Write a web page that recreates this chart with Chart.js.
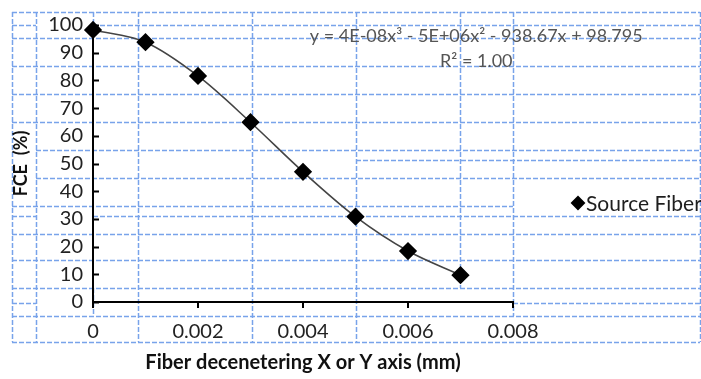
<!DOCTYPE html>
<html>
<head>
<meta charset="utf-8">
<script src="https://cdn.jsdelivr.net/npm/chart.js"></script>
<style>
  html, body { margin: 0; padding: 0; background: #fff; }
  #wrap { position: relative; width: 701px; height: 379px; overflow: hidden; }
</style>
</head>
<body>
<div id="wrap"><canvas id="chart" width="701" height="379"></canvas></div>
<script>
// offsets along X or Y (mm) and measured coupling efficiency (%)
const offsets = [0, 0.001, 0.002, 0.003, 0.004, 0.005, 0.006, 0.007];
const fce = [98.2, 93.8, 81.6, 64.9, 47.0, 30.8, 18.4, 9.7];
const xTicks = [0, 0.002, 0.004, 0.006, 0.008];
const seriesName = 'Source Fiber';
const trendEquation = 'y = 4E-08x³ - 5E+06x² - 938.67x + 98.795';
const trendR2 = 'R² = 1.00';

const FONT = 'Lato, "Open Sans", sans-serif';
const TABLE_BLUE = '#78a3ea';

// dashed cell borders of the surrounding document table
const hBorders = [
  [12, 12, 700], [25, 12, 36], [25, 93, 700], [38, 12, 700], [66, 12, 700],
  [94, 12, 700], [122, 12, 700], [150, 36, 700], [160, 356, 700], [178, 36, 700],
  [206, 12, 513], [216, 12, 36], [216, 93, 700], [234, 12, 700], [260, 12, 700],
  [288, 12, 700], [303, 12, 36], [303, 513, 700], [316, 12, 700], [342, 12, 700]
];
const vBorders = [
  [12, 12, 342], [36, 12, 342], [93, 12, 38], [93, 288, 316], [138, 12, 342],
  [252, 12, 342], [356, 12, 342], [460, 12, 288], [513, 12, 316], [700, 12, 342]
];

const tableBorders = {
  id: 'tableBorders',
  beforeDraw(chart) {
    const ctx = chart.ctx;
    ctx.save();
    ctx.strokeStyle = TABLE_BLUE;
    ctx.lineWidth = 1.5;
    ctx.setLineDash([5, 2]);
    ctx.beginPath();
    hBorders.forEach(([y, x1, x2]) => { ctx.moveTo(x1, y + 0.5); ctx.lineTo(x2, y + 0.5); });
    vBorders.forEach(([x, y1, y2]) => { ctx.moveTo(x + 0.5, y1); ctx.lineTo(x + 0.5, y2); });
    ctx.stroke();
    ctx.restore();
  }
};

const extras = {
  id: 'extras',
  afterDraw(chart) {
    const ctx = chart.ctx;
    const xs = chart.scales.x, ys = chart.scales.y;
    ctx.save();
    // inward tick marks on the value axis
    ctx.strokeStyle = '#000';
    ctx.lineWidth = 2;
    ctx.beginPath();
    ys.ticks.forEach(t => {
      const py = Math.round(ys.getPixelForValue(t.value)) + 0.5;
      ctx.moveTo(xs.left, py);
      ctx.lineTo(xs.left + 6, py);
    });
    ctx.stroke();

    // trendline label
    ctx.fillStyle = '#555';
    ctx.font = '18px ' + FONT;
    ctx.textAlign = 'center';
    ctx.textBaseline = 'middle';
    const lx = xs.getPixelForValue(0.0073);
    ctx.fillText(trendEquation, lx, ys.getPixelForValue(96));
    ctx.fillText(trendR2, lx, ys.getPixelForValue(87));

    // legend
    const ds = chart.data.datasets[0];
    const legX = 578, legY = 203;
    ctx.fillStyle = '#000';
    if (Chart.helpers && Chart.helpers.drawPoint) {
      Chart.helpers.drawPoint(ctx, { pointStyle: 'rectRot', radius: 6, borderWidth: 1 }, legX, legY);
      ctx.fill();
    }
    ctx.fillStyle = '#1e1e1e';
    ctx.font = '21px ' + FONT;
    ctx.textAlign = 'left';
    ctx.fillText(ds.label, legX + 8, legY + 1);
    ctx.restore();
  }
};

new Chart(document.getElementById('chart'), {
  type: 'scatter',
  data: {
    datasets: [{
      label: seriesName,
      data: offsets.map((x, i) => ({ x: x, y: fce[i] })),
      showLine: true,
      cubicInterpolationMode: 'monotone',
      borderColor: '#444',
      borderWidth: 1.6,
      pointStyle: 'rectRot',
      pointRadius: 8,
      pointHoverRadius: 8,
      pointBackgroundColor: '#000',
      pointBorderColor: '#000',
      clip: false
    }]
  },
  options: {
    responsive: false,
    animation: false,
    events: [],
    layout: { padding: { top: 25, right: 188, left: 0, bottom: 0 } },
    plugins: { legend: { display: false }, tooltip: { enabled: false } },
    scales: {
      x: {
        type: 'linear',
        min: 0,
        max: 0.008,
        afterFit: s => { s.height = 77; },
        afterBuildTicks: s => { s.ticks = xTicks.map(v => ({ value: v })); },
        grid: { drawOnChartArea: false, color: '#000', lineWidth: 2, tickLength: 6 },
        border: { color: '#000', width: 2 },
        ticks: {
          color: '#222',
          font: { family: FONT, size: 20 },
          padding: 12,
          maxRotation: 0,
          callback: v => v === 0 ? '0' : v.toFixed(3)
        },
        title: {
          display: true,
          text: 'Fiber decenetering X or Y axis (mm)',
          color: '#111',
          font: { family: FONT, size: 20, weight: 'bold' },
          padding: { top: 0, bottom: 4 }
        }
      },
      y: {
        min: 0,
        max: 100,
        afterFit: s => { s.width = 93; },
        grid: { drawOnChartArea: false, drawTicks: false },
        border: { color: '#000', width: 2 },
        ticks: {
          stepSize: 10,
          color: '#222',
          font: { family: FONT, size: 20 },
          padding: 10
        },
        title: {
          display: true,
          text: 'FCE  (%)',
          color: '#111',
          font: { family: FONT, size: 18, weight: 'bold' },
          padding: { top: 10, bottom: 0 }
        }
      }
    }
  },
  plugins: [tableBorders, extras]
});
</script>
</body>
</html>
